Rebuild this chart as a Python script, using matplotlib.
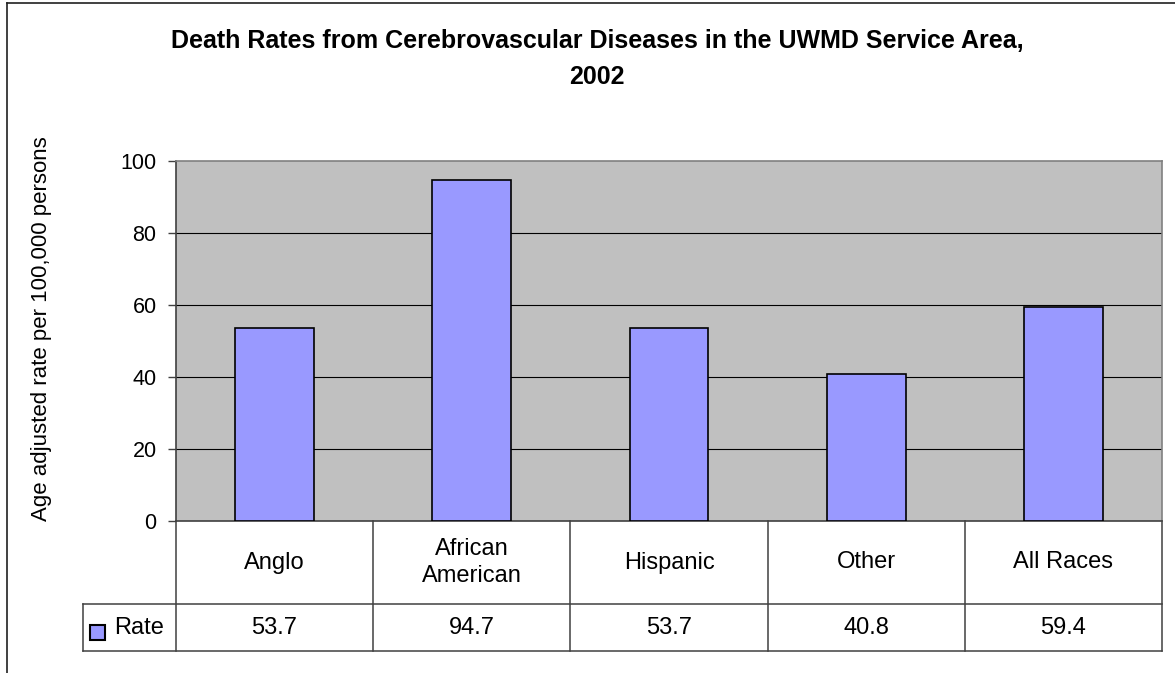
import numpy as np
import matplotlib
matplotlib.use('Agg')
import matplotlib.pyplot as plt
from matplotlib.lines import Line2D
from matplotlib.patches import Rectangle
import matplotlib.transforms as mtransforms

plt.rcParams['font.family'] = ['Liberation Sans', 'DejaVu Sans']

# data
categories = ['Anglo', 'African\nAmerican', 'Hispanic', 'Other', 'All Races']
rates = [53.7, 94.7, 53.7, 40.8, 59.4]
rate_labels = ['53.7', '94.7', '53.7', '40.8', '59.4']
series_name = 'Rate'
yticks = [0, 20, 40, 60, 80, 100]

bar_color = '#9999FF'
grid_color = '#000000'
plot_bg = '#C0C0C0'
line_col = '#404040'

W, H = 1175, 673
fig = plt.figure(figsize=(W / 100, H / 100), dpi=100)

# plot area in pixel terms
left_px, right_px, top_px, bot_px = 176, 1162, 161, 521
ax = fig.add_axes([left_px / W, 1 - bot_px / H, (right_px - left_px) / W, (bot_px - top_px) / H])
ax.set_facecolor(plot_bg)

x = np.arange(len(categories))
ax.bar(x, rates, width=0.4, color=bar_color, edgecolor='black', linewidth=1.2, zorder=3)
ax.set_xlim(-0.5, len(categories) - 0.5)
ax.set_ylim(0, 100)
ax.set_yticks(yticks)
ax.set_yticklabels([str(t) for t in yticks], fontsize=15.5)
ax.set_xticks([])
ax.tick_params(axis='y', length=6, width=1, color=line_col, pad=8)
for t in yticks[1:-1]:
    ax.axhline(t, color=grid_color, lw=0.8, zorder=1)
for s in ax.spines.values():
    s.set_color('#808080')
    s.set_linewidth(1.2)
ax.spines['left'].set_color(line_col)
ax.spines['bottom'].set_color(line_col)

fig.text(42 / W, 1 - 329 / H, 'Age adjusted rate per 100,000 persons', fontsize=16,
         rotation=90, ha='center', va='center')

# data table under the plot
plot_h = bot_px - top_px
row1 = (604 - bot_px) / plot_h
row2 = (651 - bot_px) / plot_h
trans = mtransforms.blended_transform_factory(ax.transData, ax.transAxes)
rate_left = -0.5 + (83 - left_px) / ((right_px - left_px) / len(categories))

def seg(xs, ys):
    ax.add_line(Line2D(xs, ys, transform=trans, color=line_col, lw=1.1, clip_on=False))

for i in range(len(categories) + 1):
    seg([i - 0.5, i - 0.5], [0, -row2])
seg([rate_left, len(categories) - 0.5], [-row1, -row1])
seg([rate_left, len(categories) - 0.5], [-row2, -row2])
seg([rate_left, rate_left], [-row1, -row2])

for i, (c, v) in enumerate(zip(categories, rate_labels)):
    ax.text(i, -row1 / 2, c, transform=trans, ha='center', va='center',
            fontsize=17, linespacing=1.35)
    ax.text(i, -(row1 + row2) / 2, v, transform=trans, ha='center', va='center', fontsize=17)

# legend key inside the Rate cell
fig.patches.append(Rectangle((90 / W, 1 - 640 / H), 15 / W, 15 / H, transform=fig.transFigure,
                             facecolor=bar_color, edgecolor='black', lw=1.5))
fig.text(114 / W, 1 - 628 / H, series_name, fontsize=17, ha='left', va='center')

# title
fig.text(597 / W, 1 - 41 / H, 'Death Rates from Cerebrovascular Diseases in the UWMD Service Area,',
         fontsize=18, fontweight='bold', ha='center', va='center')
fig.text(597 / W, 1 - 77 / H, '2002', fontsize=18, fontweight='bold', ha='center', va='center')

# chart frame (partly cropped in the original)
fig.add_artist(Line2D([7 / W, 1], [1 - 3 / H, 1 - 3 / H], transform=fig.transFigure, color='#202020', lw=1.2))
fig.add_artist(Line2D([7 / W, 7 / W], [1 - 3 / H, 0], transform=fig.transFigure, color='#202020', lw=1.2))

fig.savefig('out.png', dpi=100)
